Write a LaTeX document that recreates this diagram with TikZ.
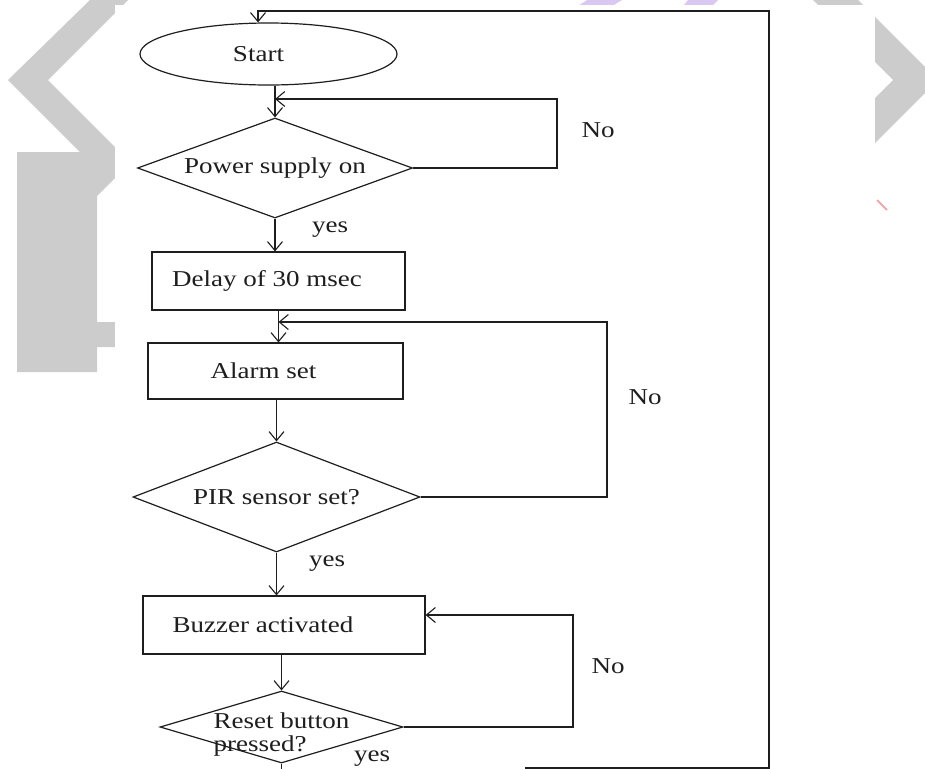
\documentclass[tikz,border=0pt]{standalone}
\usepackage{fontspec}
\setmainfont{Liberation Serif}[FakeStretch=1.19]
\usetikzlibrary{shapes.geometric,arrows.meta}
\definecolor{wmgray}{RGB}{204,204,204}
\definecolor{wmlav}{RGB}{216,200,242}
\definecolor{wmpink}{RGB}{244,168,168}
\definecolor{inkc}{RGB}{30,30,30}
\begin{document}
\begin{tikzpicture}[x=1pt,y=-1pt,
  every node/.style={font=\fontsize{22.7}{23}\selectfont, text=inkc},
  ln/.style={line width=1.2pt, draw=inkc},
  arr/.style={ln,-{Straight Barb[length=9pt,width=15pt,line width=1.1pt]}},
  boxnode/.style={ln, draw, rectangle, inner sep=0pt},
  decnode/.style={ln, draw, diamond, inner sep=0pt},
  termnode/.style={ln, draw, ellipse, inner sep=0pt},
  lbl/.style={inner sep=0pt}
]
\useasboundingbox (0,0) rectangle (925,769);
% background watermark
\fill[wmgray] (90,0) -- (128,0) -- (48,80) -- (120,152) -- (120,173) -- (97,196)
  -- (97,322) -- (115,322) -- (115,347) -- (97,347) -- (97,372) -- (17,372)
  -- (17,152) -- (80,152) -- (8,80) -- cycle;
\fill[wmgray] (813,0) -- (858,0) -- (938,80) -- (858,160) -- (813,160) -- (893,80) -- cycle;
\fill[wmlav] (587,0) -- (622,0) -- (612,6) -- (578,6) -- cycle;
\fill[wmlav] (688,0) -- (718,0) -- (712,6) -- (683,6) -- cycle;
\fill[white] (115,5) rectangle (875,769);
\draw[wmpink, line width=2pt] (877,200) -- (887,210);

% nodes
\node[termnode, minimum width=257pt, minimum height=62pt] (start) at (268.5,54) {Start\hspace*{20pt}};
\node[decnode, aspect=2.75, minimum width=275pt, minimum height=100pt] (d1) at (275,168) {Power supply on};
\node[boxnode, minimum width=253pt, minimum height=58pt] (delay) at (278.5,281) {Delay of 30 msec\hspace*{23pt}};
\node[boxnode, minimum width=255pt, minimum height=56pt] (alarm) at (275.5,371) {Alarm set\hspace*{24pt}};
\node[decnode, aspect=2.6, minimum width=287pt, minimum height=110pt] (d2) at (276.5,497) {PIR sensor set?};
\node[boxnode, minimum width=282pt, minimum height=58pt] (buzzer) at (284,625) {Buzzer activated\hspace*{42pt}};
\node[decnode, aspect=3.4, minimum width=243pt, minimum height=72pt] (d3) at (281.5,727) {};
\node[lbl, align=left] (d3t) at (281.5,735) {Reset button\\pressed?};

% labels
\node[lbl] (yes1) at (330,230) {yes};
\node[lbl] (yes2) at (327,564) {yes};
\node[lbl] (yes3) at (372,759) {yes};
\node[lbl] (no1) at (598,130) {No};
\node[lbl] (no2) at (645,397) {No};
\node[lbl] (no3) at (608,666) {No};

% connectors
\coordinate (j1) at (275,99);
\coordinate (j2) at (278.5,322);
\coordinate (b0) at (525,768);
\draw[arr] (d1.north |- start.south) -- (d1.north);
\draw[arr] (d1.east) -| (557,99) -- (j1);
\draw[arr] (d1.south) -- (d1.south |- delay.north);
\draw[arr] (delay.south) -- (delay.south |- alarm.north);
\draw[arr] (d2.east) -| (607,322) -- (j2);
\draw[arr] (d2.north |- alarm.south) -- (d2.north);
\draw[arr] (d2.south) -- (d2.south |- buzzer.north);
\draw[arr] (d3.north |- buzzer.south) -- (d3.north);
\draw[arr] (d3.east) -| (573,615) -- (buzzer.east |- 573,615);
\draw[ln] (d3.south) -- (d3.south |- 0,769);
\draw[arr] (b0) -- (769,768) -- (769,11) -- (258,11) -- (start.north -| 258,0);
\end{tikzpicture}
\end{document}
